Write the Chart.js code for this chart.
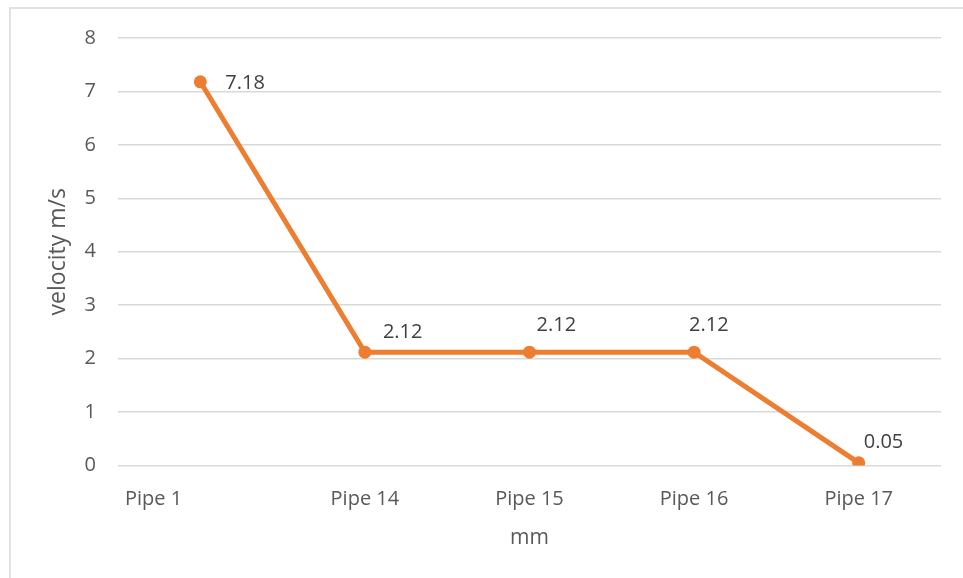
<!DOCTYPE html>
<html>
<head>
<meta charset="utf-8">
<script src="https://cdn.jsdelivr.net/npm/chart.js@4"></script>
<style>
  html, body { margin: 0; padding: 0; background: #ffffff; }
  #wrap { width: 963px; height: 578px; position: relative; }
</style>
</head>
<body>
<div id="wrap"><canvas id="chart"></canvas></div>
<script>
// Categories along the x axis (the first label carries trailing spaces, as in the source sheet)
const categories = ['Pipe 1                  ', 'Pipe 14', 'Pipe 15', 'Pipe 16', 'Pipe 17'];
// Flow velocity per pipe, m/s
const velocity = [7.18, 2.12, 2.12, 2.12, 0.05];
// Value axis ticks
const yTicks = [0, 1, 2, 3, 4, 5, 6, 7, 8];
const yTitle = 'velocity m/s';
const xTitle = 'mm';

const FONT = "'Open Sans', 'Noto Sans', sans-serif";
const ORANGE = '#ED7D31';
const GRID = '#D9D9D9';
const TEXT = '#595959';

// Light frame around the chart object
const framePlugin = {
  id: 'frame',
  beforeDraw(chart) {
    const { ctx, width, height } = chart;
    ctx.save();
    ctx.strokeStyle = GRID;
    ctx.lineWidth = 1.5;
    ctx.beginPath();
    ctx.moveTo(10, height + 5);
    ctx.lineTo(10, 8);
    ctx.lineTo(width + 5, 8);
    ctx.stroke();
    ctx.restore();
  }
};

// Value labels next to each point
const valueLabels = {
  id: 'valueLabels',
  afterDatasetsDraw(chart, args, opts) {
    const { ctx } = chart;
    const meta = chart.getDatasetMeta(0);
    const data = chart.data.datasets[0].data;
    ctx.save();
    ctx.font = opts.font;
    ctx.fillStyle = opts.color;
    ctx.textAlign = 'left';
    ctx.textBaseline = 'middle';
    meta.data.forEach((pt, i) => {
      const [dx, dy] = opts.offsets[i];
      ctx.fillText(data[i].toFixed(2), pt.x + dx, pt.y + dy);
    });
    ctx.restore();
  }
};

new Chart(document.getElementById('chart'), {
  type: 'line',
  data: {
    labels: categories,
    datasets: [{
      data: velocity,
      borderColor: ORANGE,
      backgroundColor: ORANGE,
      borderWidth: 5,
      pointRadius: 6.5,
      pointHoverRadius: 6.5,
      pointBackgroundColor: ORANGE,
      pointBorderWidth: 0,
      tension: 0,
      fill: false
    }]
  },
  options: {
    responsive: true,
    maintainAspectRatio: false,
    animation: false,
    layout: { padding: { left: 0, right: 22, top: 38, bottom: 0 } },
    plugins: {
      legend: { display: false },
      tooltip: { enabled: false },
      valueLabels: {
        font: `20px ${FONT}`,
        color: '#404040',
        offsets: [[25, 1], [18, -20], [7, -27], [-5, -27], [5, -21]]
      }
    },
    scales: {
      x: {
        type: 'category',
        offset: true,
        grid: { display: false, drawTicks: false },
        border: { display: false },
        ticks: {
          color: TEXT,
          font: { family: FONT, size: 20 },
          padding: 22,
          maxRotation: 0,
          autoSkip: false
        },
        title: {
          display: true,
          text: xTitle,
          color: TEXT,
          font: { family: FONT, size: 21 },
          padding: { top: 0, bottom: 27 }
        },
        afterFit(scale) { scale.height = 112.5; }
      },
      y: {
        min: yTicks[0],
        max: yTicks[yTicks.length - 1],
        grid: { color: GRID, lineWidth: 1.5, drawTicks: false },
        border: { display: false },
        ticks: {
          stepSize: 1,
          color: TEXT,
          font: { family: FONT, size: 20 },
          padding: 22,
          callback: (v) => yTicks.includes(v) ? String(v) : ''
        },
        title: {
          display: true,
          text: yTitle,
          color: TEXT,
          font: { family: FONT, size: 23 },
          padding: { top: 45, bottom: 0 }
        },
        afterFit(scale) { scale.width = 118; }
      }
    }
  },
  plugins: [framePlugin, valueLabels]
});
</script>
</body>
</html>
